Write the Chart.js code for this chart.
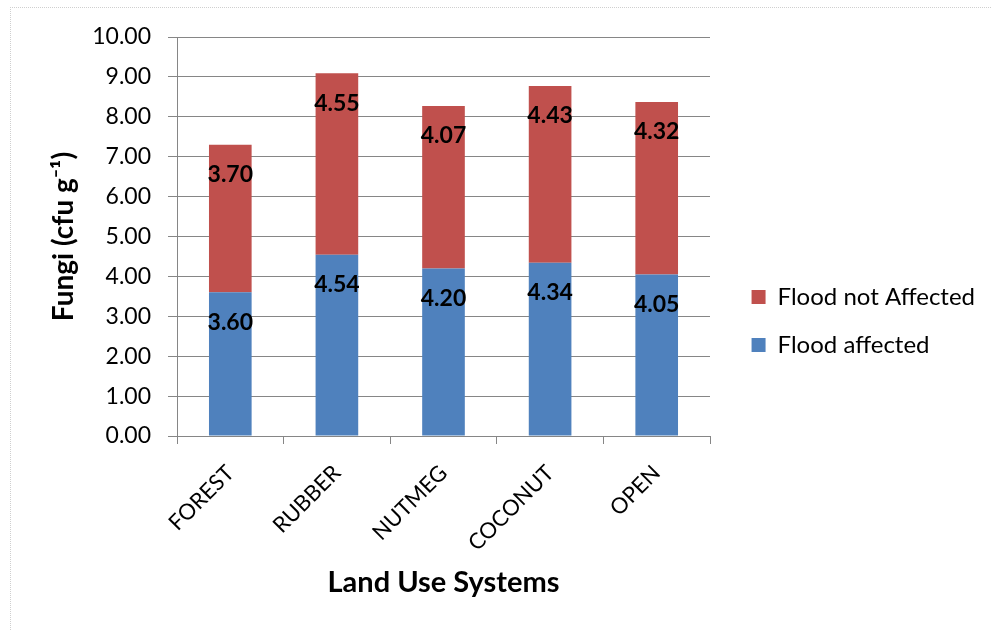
<!DOCTYPE html>
<html>
<head>
<meta charset="utf-8">
<script src="https://cdn.jsdelivr.net/npm/chart.js@4.4.1/dist/chart.umd.min.js"></script>
<style>
  html, body { margin: 0; padding: 0; background: #ffffff; overflow: hidden; }
  #frame { position: absolute; left: 10px; top: 7px; width: 1200px; height: 900px;
           border-top: 1px dotted #cfcfcf; border-left: 1px dotted #cfcfcf; }
  #wrap { position: absolute; left: 0; top: 0; width: 991px; height: 630px; }
</style>
</head>
<body>
<div id="frame"></div>
<div id="wrap"><canvas id="c" width="991" height="630"></canvas></div>
<script>
const categories = ['FOREST', 'RUBBER', 'NUTMEG', 'COCONUT', 'OPEN'];
const floodAffected = [3.60, 4.54, 4.20, 4.34, 4.05];
const floodNotAffected = [3.70, 4.55, 4.07, 4.43, 4.32];
const yTickLabels = ['0.00','1.00','2.00','3.00','4.00','5.00','6.00','7.00','8.00','9.00','10.00'];
const seriesNames = ['Flood affected', 'Flood not Affected'];

const FONT = 'Lato';
const GRID = '#868686';
const PLOT_RIGHT = 710;
const PAD_RIGHT = 6;

const valueLabels = {
  id: 'valueLabels',
  afterDatasetsDraw(chart) {
    const ctx = chart.ctx;
    ctx.save();
    ctx.font = 'bold 23px ' + FONT;
    ctx.fillStyle = '#000';
    ctx.textAlign = 'center';
    ctx.textBaseline = 'middle';
    chart.data.datasets.forEach((ds, i) => {
      chart.getDatasetMeta(i).data.forEach((bar, j) => {
        ctx.fillText(ds.data[j].toFixed(2), bar.x, bar.y + 30);
      });
    });
    ctx.restore();
  }
};

new Chart(document.getElementById('c'), {
  type: 'bar',
  data: {
    labels: categories,
    datasets: [
      { label: seriesNames[0], data: floodAffected, backgroundColor: '#4F81BD', borderWidth: 0,
        categoryPercentage: 0.8, barPercentage: 0.5 },
      { label: seriesNames[1], data: floodNotAffected, backgroundColor: '#C0504D', borderWidth: 0,
        categoryPercentage: 0.8, barPercentage: 0.5 }
    ]
  },
  options: {
    responsive: false,
    animation: false,
    devicePixelRatio: 1,
    layout: { padding: { top: 37, bottom: 25, left: 0, right: PAD_RIGHT } },
    plugins: {
      tooltip: { enabled: false },
      legend: {
        position: 'right',
        reverse: true,
        maxWidth: 300,
        labels: {
          boxWidth: 14, boxHeight: 14, padding: 24,
          color: '#000', font: { family: FONT, size: 24 }
        }
      }
    },
    scales: {
      x: {
        stacked: true,
        afterFit: s => { s.height = 169; },
        grid: { drawOnChartArea: false, drawTicks: true, tickLength: 8, color: GRID, offset: true },
        border: { display: true, color: GRID, width: 1 },
        ticks: { color: '#000', font: { family: FONT, size: 22 }, minRotation: 45, maxRotation: 45, padding: 16, autoSkip: false },
        title: { display: true, text: 'Land Use Systems', color: '#000',
                 font: { family: FONT, size: 29, weight: 'bold' }, padding: { top: 0, bottom: 5 } }
      },
      y: {
        stacked: true,
        min: 0, max: 10,
        afterFit: s => { s.width = 177; },
        grid: { color: GRID, tickLength: 9, drawTicks: true },
        border: { display: true, color: GRID, width: 1 },
        ticks: { stepSize: 1, color: '#000', font: { family: FONT, size: 23 }, padding: 17,
                 callback: v => yTickLabels[Math.round(v)] },
        title: { display: true, text: 'Fungi (cfu g\u207B\u00B9)', color: '#000',
                 font: { family: FONT, size: 28, weight: 'bold' }, padding: { top: 47, bottom: 0 } }
      },
      gap: {
        type: 'linear', position: 'right', display: true,
        afterFit: s => {
          const lw = s.chart.legend ? s.chart.legend.width : 264;
          s.width = Math.max(0, s.chart.width - PAD_RIGHT - lw - PLOT_RIGHT);
        },
        grid: { display: false, drawTicks: false }, border: { display: false },
        ticks: { display: false }
      }
    }
  },
  plugins: [valueLabels]
});
</script>
</body>
</html>
